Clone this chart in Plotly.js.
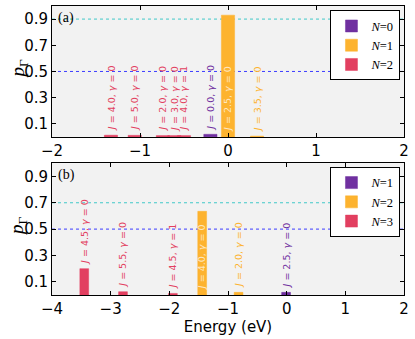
<!DOCTYPE html>
<html>
<head>
<meta charset="utf-8">
<script src="https://cdn.plot.ly/plotly-3.0.1.min.js"></script>
<style>
  html, body { margin: 0; padding: 0; background: #fff; }
  #chart { width: 415px; height: 339px; }
</style>
</head>
<body>
<div id="chart"></div>
<script>
'use strict'

// panel (a): energies (eV), weights p_Γ and state labels per series

const a_N0_x = [-0.2]
const a_N0_y = [0.02]
const a_N0_J = ['0.0']
const a_N0_g = [0]

const a_N1_x = [0.0, 0.33]
const a_N1_y = [0.93, 0.006]
const a_N1_J = ['2.5', '3.5']
const a_N1_g = [0, 0]

const a_N2_x = [-1.33, -1.06, -0.74, -0.61, -0.50]
const a_N2_y = [0.013, 0.012, 0.01, 0.01, 0.01]
const a_N2_J = ['4.0', '5.0', '2.0', '3.0', '4.0']
const a_N2_g = [0, 0, 0, 0, 1]

// panel (b)

const b_N1_x = [-0.01]
const b_N1_y = [0.02]
const b_N1_J = ['2.5']
const b_N1_g = [0]

const b_N2_x = [-1.44, -0.82]
const b_N2_y = [0.635, 0.02]
const b_N2_J = ['4.0', '2.0']
const b_N2_g = [0, 0]

const b_N3_x = [-3.45, -2.79, -1.94]
const b_N3_y = [0.2, 0.025, 0.012]
const b_N3_J = ['4.5', '5.5', '4.5']
const b_N3_g = [0, 0, 1]

const a_refs = [0.9, 0.5]
const b_refs = [0.7, 0.5]
const y_ticks = [0.1, 0.3, 0.5, 0.7, 0.9]

///////////////////////////////////////////////////////

const purple = '#7030a0', orange = '#fdb32f', red = '#e23f60'
const ref_colors = ['#40c8c8', '#3c3cff']

const traces = [], annotations = [], shapes = []

const addSeries = (name, x, y, J, g, color, xa, ya, legend) => {
  traces.push({
    type: 'bar',
    name: name,
    x: x,
    y: y,
    width: 0.15,
    marker: { color: color, line: { color: color, width: 0.5 } },
    xaxis: xa,
    yaxis: ya,
    legend: legend,
    hoverinfo: 'none'
  })

  x.forEach((xv, i) => {
    // tall bars carry their label inside, near the base
    let inside = y[i] > 0.5
    annotations.push({
      x: xv,
      y: inside ? 0 : y[i],
      xref: xa,
      yref: ya,
      yshift: inside ? 3 : 2,
      text: `<i>J</i> = ${J[i]}, <i>γ</i> = ${g[i]}`,
      textangle: -90,
      showarrow: false,
      xanchor: 'center',
      yanchor: 'bottom',
      font: { family: 'DejaVu Sans', size: 9.5, color: inside ? 'rgba(255,255,255,0.7)' : color }
    })
  })
}

addSeries('<i>N</i>=0', a_N0_x, a_N0_y, a_N0_J, a_N0_g, purple, 'x', 'y', 'legend')
addSeries('<i>N</i>=1', a_N1_x, a_N1_y, a_N1_J, a_N1_g, orange, 'x', 'y', 'legend')
addSeries('<i>N</i>=2', a_N2_x, a_N2_y, a_N2_J, a_N2_g, red, 'x', 'y', 'legend')

addSeries('<i>N</i>=1', b_N1_x, b_N1_y, b_N1_J, b_N1_g, purple, 'x2', 'y2', 'legend2')
addSeries('<i>N</i>=2', b_N2_x, b_N2_y, b_N2_J, b_N2_g, orange, 'x2', 'y2', 'legend2')
addSeries('<i>N</i>=3', b_N3_x, b_N3_y, b_N3_J, b_N3_g, red, 'x2', 'y2', 'legend2')

// dotted reference levels

const addRefs = (refs, xa, ya) => refs.forEach((r, i) => shapes.push({
  type: 'line',
  xref: xa + ' domain',
  yref: ya,
  x0: 0, x1: 1, y0: r, y1: r,
  line: { color: ref_colors[i], width: 1, dash: 'dot' },
  layer: 'below'
}))
addRefs(a_refs, 'x', 'y')
addRefs(b_refs, 'x2', 'y2')

// panel tags and y titles

const serif = 'Liberation Serif'
for (let [tag, ya] of [['(a)', 'y'], ['(b)', 'y2']]) {
  annotations.push({
    text: tag, xref: 'x' + ya.slice(1) + ' domain', yref: ya + ' domain',
    x: 0.01, y: 0.985, xanchor: 'left', yanchor: 'top', showarrow: false,
    font: { family: serif, size: 14, color: '#000' }
  })
  annotations.push({
    text: '<i>p</i><sub>Γ</sub>', xref: 'paper', yref: ya,
    x: -0.095, y: 0.52, xanchor: 'center', yanchor: 'middle', textangle: -90, showarrow: false,
    font: { family: serif, size: 19, color: '#000' }
  })
}

const axisBase = {
  showline: true,
  linecolor: '#000',
  linewidth: 1,
  mirror: 'ticks',
  ticks: 'inside',
  ticklen: 4,
  tickcolor: '#000',
  showgrid: false,
  zeroline: false,
  tickfont: { family: 'DejaVu Sans', size: 15, color: '#000' }
}

const legendBase = {
  x: 0.99,
  xanchor: 'right',
  yanchor: 'top',
  bgcolor: '#fff',
  bordercolor: '#000',
  borderwidth: 1,
  font: { family: serif, size: 12.5, color: '#000' },
  itemwidth: 30,
  tracegroupgap: 0
}

const layout = {
  width: 415,
  height: 339,
  margin: { l: 52, r: 11, t: 6, b: 44 },
  paper_bgcolor: '#fff',
  plot_bgcolor: '#f2f2f2',
  barmode: 'overlay',
  showlegend: true,
  xaxis: Object.assign({}, axisBase, { anchor: 'y', range: [-2, 2], dtick: 1 }),
  yaxis: Object.assign({}, axisBase, { domain: [0.547, 1], range: [0, 1], tickvals: y_ticks }),
  xaxis2: Object.assign({}, axisBase, {
    anchor: 'y2', range: [-4, 2], dtick: 1,
    title: { text: 'Energy (eV)', font: { family: 'DejaVu Sans', size: 15, color: '#000' }, standoff: 4 }
  }),
  yaxis2: Object.assign({}, axisBase, { domain: [0, 0.456], range: [0, 1], tickvals: y_ticks }),
  legend: Object.assign({}, legendBase, { y: 0.985 }),
  legend2: Object.assign({}, legendBase, { y: 0.443 }),
  shapes: shapes,
  annotations: annotations
}

Plotly.newPlot('chart', traces, layout, { staticPlot: true, displayModeBar: false })
</script>
</body>
</html>
